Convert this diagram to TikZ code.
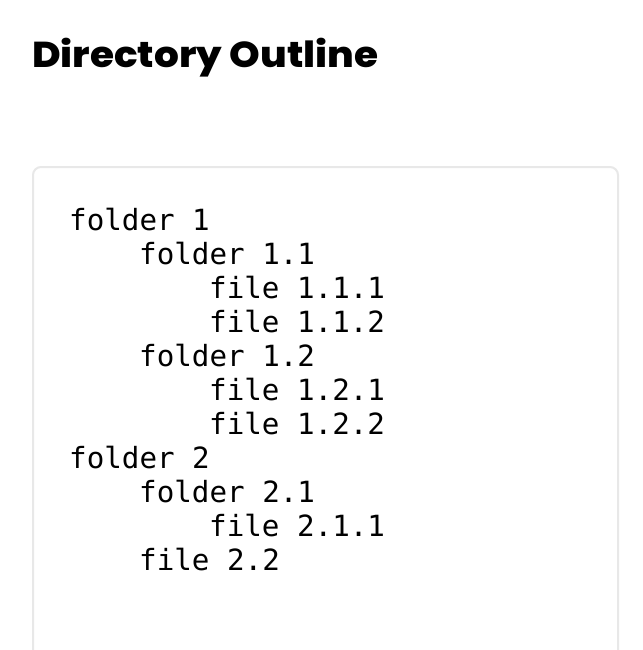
\documentclass[tikz,border=0pt]{standalone}
\usepackage{fontspec}
\newfontfamily\monofont{DejaVu Sans Mono}
\newfontfamily\titlefont{Poppins ExtraBold}
\definecolor{boxline}{HTML}{E8E8E8}
\begin{document}
\begin{tikzpicture}[x=1pt,y=-1pt,
  titletext/.style={anchor=base west, inner sep=0pt, font=\titlefont\fontsize{36}{42}\selectfont},
  entry/.style={anchor=base west, inner sep=0pt, font=\monofont\fontsize{29.2}{34}\selectfont},
  panel/.style={draw=boxline, line width=2pt, rounded corners=8pt}]
\clip (0,0) rectangle (642,650);
\fill[white] (0,0) rectangle (642,650);
\draw[panel] (33,167) rectangle (618,700);
\node[titletext] (title) at (32,68) {\resizebox{346pt}{\height}{Directory Outline}};
\node[entry] (f1)   at (69,230) {folder 1};
\node[entry] (f11)  at (139,264) {folder 1.1};
\node[entry] (f111) at (209,298) {file 1.1.1};
\node[entry] (f112) at (209,332) {file 1.1.2};
\node[entry] (f12)  at (139,366) {folder 1.2};
\node[entry] (f121) at (209,400) {file 1.2.1};
\node[entry] (f122) at (209,434) {file 1.2.2};
\node[entry] (f2)   at (69,468) {folder 2};
\node[entry] (f21)  at (139,502) {folder 2.1};
\node[entry] (f211) at (209,536) {file 2.1.1};
\node[entry] (f22)  at (139,570) {file 2.2};
\end{tikzpicture}
\end{document}
